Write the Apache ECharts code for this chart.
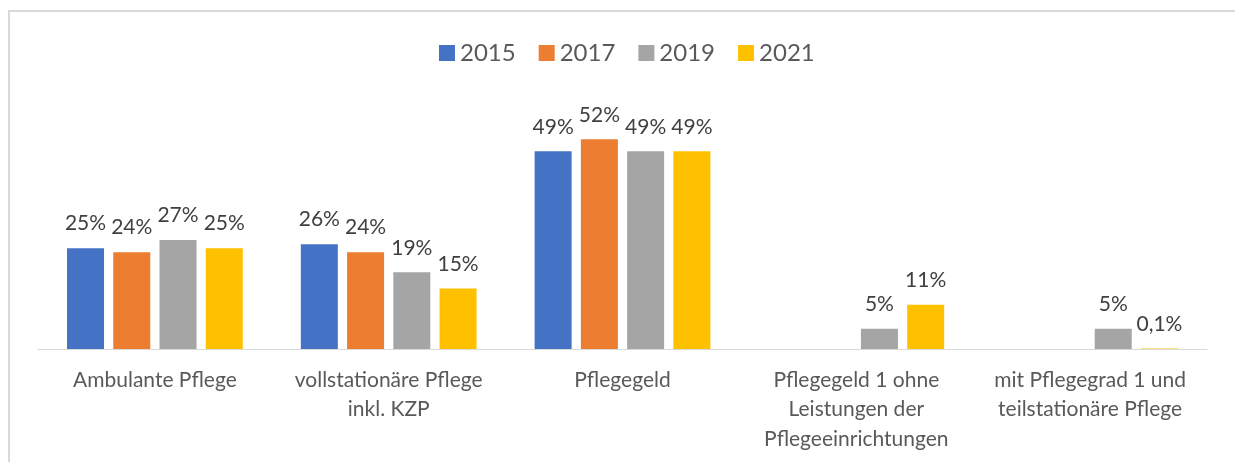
<!DOCTYPE html>
<html>
<head>
<meta charset="utf-8">
<script src="https://cdn.jsdelivr.net/npm/echarts@6/dist/echarts.min.js"></script>
<style>
  html, body { margin: 0; padding: 0; background: #fff; }
  #chart { width: 1235px; height: 462px; }
</style>
</head>
<body>
<div id="chart"></div>
<script>
var categories = [
  'Ambulante Pflege',
  'vollstationäre Pflege\ninkl. KZP',
  'Pflegegeld',
  'Pflegegeld 1 ohne\nLeistungen der\nPflegeeinrichtungen',
  'mit Pflegegrad 1 und\nteilstationäre Pflege'
];
var years = ['2015', '2017', '2019', '2021'];
var values2015 = [25, 26, 49, null, null];
var values2017 = [24, 24, 52, null, null];
var values2019 = [27, 19, 49, 5, 5];
var values2021 = [25, 15, 49, 11, 0.1];
var colors = ['#4472C4', '#ED7D31', '#A5A5A5', '#FFC000'];

var font = 'Lato';
var allValues = [values2015, values2017, values2019, values2021];

var series = [];
for (var i = 0; i < years.length; i++) {
  series.push({
    name: years[i],
    type: 'bar',
    barWidth: 37,
    barGap: '25%',
    itemStyle: { color: colors[i] },
    label: {
      show: true,
      position: 'top',
      distance: 14,
      color: '#404040',
      fontFamily: font,
      fontSize: 21,
      formatter: function (p) {
        if (p.value == null) return '';
        return String(p.value).replace('.', ',') + '%';
      }
    },
    data: allValues[i]
  });
}

var myChart = echarts.init(document.getElementById('chart'));
myChart.setOption({
  backgroundColor: '#fff',
  animation: false,
  graphic: [{
    type: 'rect',
    shape: { x: 9, y: 11, width: 1240, height: 470 },
    style: { fill: null, stroke: '#d9d9d9', lineWidth: 2 },
    silent: true
  }],
  legend: {
    top: 36,
    left: 434,
    itemWidth: 16,
    itemHeight: 16,
    itemGap: 23,
    icon: 'rect',
    textStyle: { color: '#595959', fontFamily: font, fontSize: 24 },
    data: years
  },
  grid: { left: 38, right: 28, top: 107, bottom: 113, containLabel: false },
  xAxis: {
    type: 'category',
    data: categories,
    axisLine: { lineStyle: { color: '#d9d9d9', width: 1 } },
    axisTick: { show: false },
    axisLabel: {
      color: '#595959',
      fontFamily: font,
      fontSize: 21,
      lineHeight: 29.5,
      margin: 16,
      interval: 0
    }
  },
  yAxis: {
    type: 'value',
    min: 0,
    max: 60,
    show: false,
    splitLine: { show: false }
  },
  series: series
});
</script>
</body>
</html>
